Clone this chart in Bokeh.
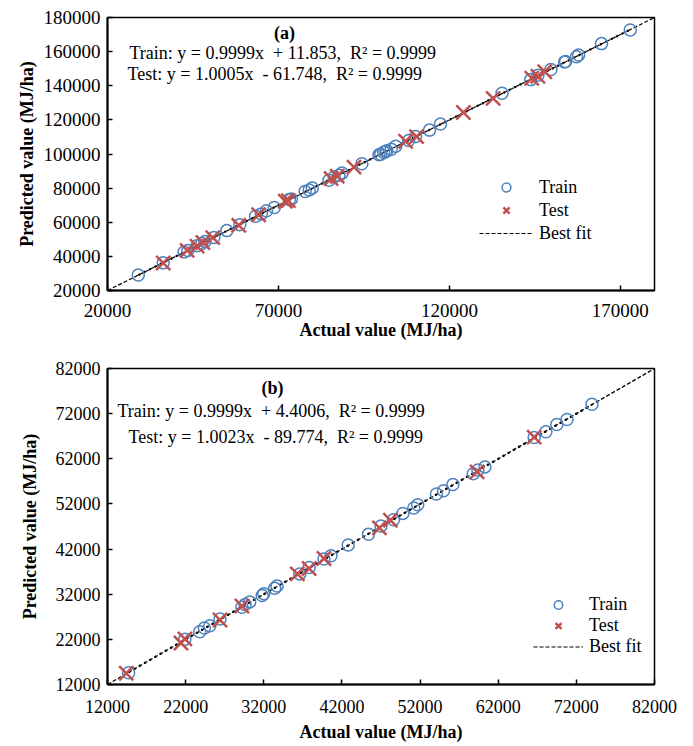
from bokeh.plotting import figure
from bokeh.layouts import column
from bokeh.models import Range1d, FixedTicker, Label, Legend, LegendItem, NumeralTickFormatter
from bokeh.embed import file_html
from bokeh.resources import INLINE

FONT = "Liberation Serif"
BLUE = "#4F81BD"
RED = "#C0504D"
NB = "\u00a0"

# ---------------- Panel (a) data ----------------
a_train_actual = [29000, 36300, 42400, 43500, 46200, 47600, 48500, 51100, 54900, 58700,
                  63300, 65000, 66500, 68800, 73200, 73800, 77800, 79000, 79900, 84800,
                  86300, 87700, 88600, 94400, 99400, 99900, 100800, 101400, 101700, 103000,
                  104300, 108100, 110100, 114200, 117400, 135400, 143800, 145900, 149700,
                  153700, 154000, 157200, 157800, 164500, 172900]
a_train_pred = [29100, 36200, 42600, 43400, 46300, 47500, 48700, 51000, 55100, 58600,
                63500, 64900, 66700, 68600, 73400, 73600, 78000, 78900, 80100, 84600,
                86500, 87600, 88800, 94300, 99600, 99800, 101000, 101300, 101900, 102800,
                104500, 107900, 110300, 114000, 117600, 135600, 143600, 146100, 149500,
                153900, 154200, 157000, 158000, 164700, 172700]
a_test_actual = [36300, 43300, 46200, 47900, 50800, 58400, 64200, 72000, 72900, 85400,
                 87200, 92100, 107200, 110400, 124100, 132800, 144100, 145900, 147900]
a_test_pred = [36100, 43500, 46000, 48100, 51000, 58200, 64400, 72300, 72700, 85600,
               87000, 92300, 107500, 110200, 124300, 132600, 144400, 145600, 148200]
a_range = [20000, 180000]
a_xticks = [20000, 70000, 120000, 170000]
a_yticks = [20000, 40000, 60000, 80000, 100000, 120000, 140000, 160000, 180000]
a_slope, a_icpt = 0.9999, 11.853
a_texts = ["(a)",
           "Train: y = 0.9999x" + NB + " + 11.853," + NB + " R\u00b2 = 0.9999",
           "Test: y = 1.0005x" + NB + " - 61.748," + NB + " R\u00b2 = 0.9999"]

# ---------------- Panel (b) data ----------------
b_train_actual = [14700, 21900, 23800, 24400, 25100, 26400, 29200, 29600, 30200, 31800,
                  32000, 33400, 33700, 36600, 37800, 39700, 40600, 42800, 45400, 47000,
                  48600, 49800, 51200, 51700, 54100, 55000, 56200, 58800, 59400, 60300,
                  66600, 68100, 69500, 70800, 74000]
b_train_pred = [14600, 22000, 23700, 24500, 25000, 26500, 29100, 29700, 30300, 31700,
                32100, 33300, 33800, 36500, 37900, 39800, 40500, 42900, 45300, 47100,
                48500, 49900, 51100, 51800, 54200, 54900, 56300, 58700, 59500, 60200,
                66700, 68000, 69600, 70700, 74100]
b_test_actual = [14400, 21400, 21900, 26400, 29200, 36300, 37800, 39700, 46800, 48200,
                 59300, 66600]
b_test_pred = [14500, 21200, 22100, 26300, 29400, 36500, 37700, 39900, 46700, 48400,
               59100, 66800]
b_range = [12000, 82000]
b_xticks = [12000, 22000, 32000, 42000, 52000, 62000, 72000, 82000]
b_yticks = [12000, 22000, 32000, 42000, 52000, 62000, 72000, 82000]
b_slope, b_icpt = 0.9999, 4.4006
b_texts = ["(b)",
           "Train: y = 0.9999x" + NB + " + 4.4006," + NB + " R\u00b2 = 0.9999",
           "Test: y = 1.0023x" + NB + " - 89.774," + NB + " R\u00b2 = 0.9999"]


def style_axis(ax, ticks, standoff, label_standoff, tick_font):
    ax.ticker = FixedTicker(ticks=ticks)
    ax.formatter = NumeralTickFormatter(format="0")
    ax.minor_tick_line_color = None
    ax.major_tick_in = 5
    ax.major_tick_out = 0
    ax.major_tick_line_width = 1.5
    ax.major_tick_line_color = "black"
    ax.axis_line_width = 2
    ax.axis_line_color = "black"
    ax.major_label_text_font = FONT
    ax.major_label_text_font_size = tick_font
    ax.major_label_text_color = "black"
    ax.major_label_standoff = standoff
    ax.axis_label_text_font = FONT
    ax.axis_label_text_font_size = "18px"
    ax.axis_label_text_font_style = "bold"
    ax.axis_label_text_color = "black"
    ax.axis_label_standoff = label_standoff


def make_panel(width, height, borders, rng, xticks, yticks, tr_x, tr_y, te_x, te_y,
               slope, icpt, texts, text_pos, legend_pos, legend_glyph_w, legend_row,
               legend_spacing, x_standoffs, y_standoffs, tick_font):
    left, right, top, bottom = borders
    p = figure(width=width, height=height, output_backend="svg", toolbar_location=None,
               x_range=Range1d(rng[0], rng[1]), y_range=Range1d(rng[0], rng[1]),
               min_border_left=left, min_border_right=right,
               min_border_top=top, min_border_bottom=bottom)
    p.xgrid.visible = False
    p.ygrid.visible = False
    p.outline_line_color = "black"
    p.outline_line_width = 1.5
    p.outline_line_alpha = 1
    p.background_fill_color = "white"
    p.border_fill_color = "white"

    p.xaxis.axis_label = "Actual value (MJ/ha)"
    p.yaxis.axis_label = "Predicted value (MJ/ha)"
    style_axis(p.xaxis[0], xticks, *x_standoffs, tick_font)
    style_axis(p.yaxis[0], yticks, *y_standoffs, tick_font)

    best = p.line(rng, rng, line_color="black", line_width=1.2, line_dash="4 2")
    tx = [min(tr_x), max(tr_x)]
    ty = [slope * v + icpt for v in tx]
    p.line(tx, ty, line_color="black", line_width=2.2, line_dash="2 4")

    r_tr = p.scatter(tr_x, tr_y, marker="circle", size=12, fill_color=None,
                     line_color=BLUE, line_width=1.5)
    r_te = p.scatter(te_x, te_y, marker="x", size=20, line_color=RED, line_width=2.5)

    for t, (sx, sy, align, bold) in zip(texts, text_pos):
        p.add_layout(Label(x=sx, y=sy, x_units="screen", y_units="screen", text=t,
                           text_font=FONT, text_font_size="18px", text_color="black",
                           text_align=align, text_baseline="middle",
                           text_font_style="bold" if bold else "normal"))

    leg = Legend(items=[LegendItem(label="Train", renderers=[r_tr]),
                        LegendItem(label="Test", renderers=[r_te]),
                        LegendItem(label="Best fit", renderers=[best])],
                 location=legend_pos, glyph_width=legend_glyph_w,
                 glyph_height=legend_row, label_height=legend_row, spacing=legend_spacing,
                 padding=0, margin=0, label_standoff=6,
                 border_line_color=None, background_fill_alpha=0,
                 label_text_font=FONT, label_text_font_size="18px",
                 label_text_color="black")
    p.add_layout(leg)
    return p


pa = make_panel(693, 342, (107, 39, 17, 52), a_range, a_xticks, a_yticks,
                a_train_actual, a_train_pred, a_test_actual, a_test_pred,
                a_slope, a_icpt, a_texts,
                [(177, 258, "center", True), (22, 238, "left", False), (20, 217, "left", False)],
                (372, 46), 54, 22, 1, (13, 0), (7, 4), "19px")
pb = make_panel(693, 404, (103, 39, 26, 62), b_range, b_xticks, b_yticks,
                b_train_actual, b_train_pred, b_test_actual, b_test_pred,
                b_slope, b_icpt, b_texts,
                [(165, 297, "center", True), (10, 274, "left", False), (21, 248, "left", False)],
                (426, 27), 50, 21, 0, (15, 6), (7, 13), "18px")

layout = column(pa, pb, spacing=0)
open("out.html", "w").write(file_html(layout, INLINE))
